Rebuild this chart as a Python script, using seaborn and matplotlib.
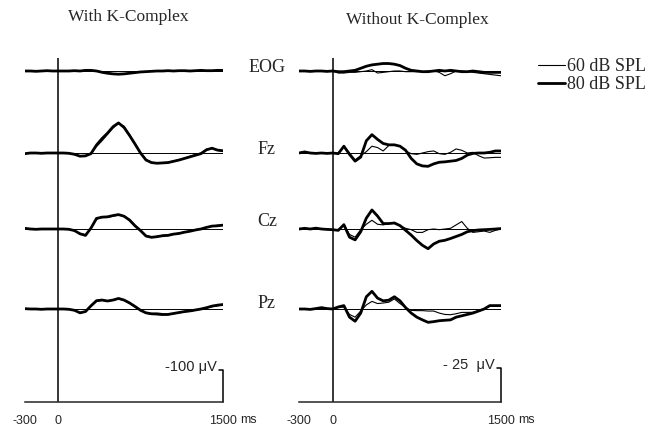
import matplotlib
matplotlib.use("Agg")
import matplotlib.pyplot as plt
from matplotlib.lines import Line2D
import seaborn as sns
import pandas as pd

# time axis (ms), sampled every 50 ms
times = list(range(-300, 1501, 50))
channels = ["EOG", "Fz", "Cz", "Pz"]
levels = ["60 dB SPL", "80 dB SPL"]
panel_titles = ["With K-Complex", "Without K-Complex"]
scale_uv = [100, 25]
xtick_ms = [-300, 0, 300, 600, 900, 1200, 1500]

# With K-Complex (uV, negative = up)
with_kc = {
    ("EOG", "80 dB SPL"): [0, 0, 1, 0, -1, 0, 0, 0, 0, -1, 0, -2, -2, 0, 4, 7, 9, 10, 9, 7, 5, 3, 2, 1,
                           0, 0, -1, 0, -1, -1, 0, -1, -2, -1, -1, -2, -2],
    ("EOG", "60 dB SPL"): [0, 0, 0, 0, -1, 0, 0, 0, 0, 0, 0, -1, -2, 0, 3, 6, 8, 9, 9, 7, 5, 3, 2, 1,
                           0, 0, 0, 0, -1, -1, 0, -1, -1, -1, -1, -2, -2],
    ("Fz", "80 dB SPL"): [2, 0, 0, 1, 0, 0, 0, 0, 1, 4, 10, 9, 2, -25, -45, -62, -82, -94, -80, -55, -28,
                          0, 22, 30, 32, 31, 30, 26, 22, 17, 12, 7, 2, -10, -15, -9, -7],
    ("Fz", "60 dB SPL"): [2, 0, 0, 1, 0, 0, 0, 0, 1, 5, 9, 8, 0, -20, -38, -58, -78, -92, -84, -58, -30,
                          -2, 20, 29, 32, 30, 29, 25, 21, 16, 10, 5, 0, -12, -14, -8, -6],
    ("Cz", "80 dB SPL"): [-2, 0, 1, 0, 0, 0, 0, 0, 1, 5, 15, 20, -3, -33, -37, -38, -42, -45, -40, -28, -10,
                          5, 22, 26, 24, 21, 20, 16, 14, 10, 7, 3, 0, -5, -9, -10, -12],
    ("Cz", "60 dB SPL"): [-2, 0, 0, 0, 0, 0, 0, 0, 1, 6, 14, 18, -2, -30, -39, -36, -40, -44, -41, -30, -12,
                          3, 20, 25, 23, 20, 18, 15, 13, 9, 6, 2, -1, -6, -8, -12, -13],
    ("Pz", "80 dB SPL"): [-1, 0, 0, 1, 0, 0, 0, 0, 1, 4, 12, 8, -10, -26, -28, -25, -28, -33, -28, -19, -8,
                          4, 12, 15, 15, 17, 17, 14, 11, 8, 6, 3, 0, -4, -9, -12, -14],
    ("Pz", "60 dB SPL"): [-1, 0, 0, 0, 0, 0, 0, 0, 1, 5, 11, 7, -8, -24, -27, -24, -27, -31, -27, -18, -6,
                          5, 13, 17, 18, 19, 18, 15, 12, 9, 7, 4, 1, -3, -7, -10, -12],
}

# Without K-Complex (uV, negative = up)
without_kc = {
    ("EOG", "80 dB SPL"): [0, 0, 0.3, 0, 0, 0.3, 0, 0.5, 0.5, 0, -0.5, -2, -3.5, -4.5, -5, -5.5, -5.5, -5, -4,
                           -2, -0.5, 0, 0.5, 0.5, 0, -0.5, 0, -0.5, 0, 0.5, 0.5, 0, 0.5, 1, 1, 1, 1],
    ("EOG", "60 dB SPL"): [0, 0, 0, 0.3, 0, 0, 0, 1.5, 1.5, 1, 1, 0.5, 0, -1, 1.5, 1, 0.5, 0, 0,
                           0.5, 0.5, 0.5, 0.5, 0, 0, 1, 3.5, 2, 0, 0, 0.5, 1, 1.5, 2, 2.5, 3, 3.5],
    ("Fz", "80 dB SPL"): [0, -0.8, 0, 0.3, 0, 0.3, 0, 0.5, -5, 1, 6, 3, -9, -13.5, -10, -7, -6, -6, -5,
                          -2, 4, 8, 9.5, 9.8, 8, 6.8, 6.5, 6, 5.5, 4, 1.5, 0.3, 0, 0, -0.5, -1.5, -1.5],
    ("Fz", "60 dB SPL"): [0, -0.5, 0, 0, 0.3, 0, 0, 0, -5, 0, 5, 2, -1, -5, -4, -1.5, -5.5, -6, -5,
                          -1.5, 0.5, 1, 0, -1, -1.5, 0.5, 1, -0.5, -3, -2, 0, -0.5, 2, 3.7, 3.5, 3.2, 3.2],
    ("Cz", "80 dB SPL"): [0, -0.5, 0, -0.6, 0, 0.3, 0.5, 1, -3.2, 6, 8, 2, -8, -14, -9.5, -4, -4, -4.4, -2.5,
                          1, 4.5, 8.5, 12, 14.5, 11, 9, 8.3, 7, 5.5, 4, 2, 1.2, 0.7, 0.5, 0.3, 0, -0.3],
    ("Cz", "60 dB SPL"): [0, -0.3, 0, -0.3, 0, 0, 0.5, 0.5, -3, 4, 6, 0.5, -3.5, -6.4, -3.5, -3, -4, -4.9, -2.5,
                          -0.5, 0.5, 2.5, 2.5, 0.5, 0, 0.5, 0, -0.5, -3, -5.5, -0.5, 2.5, 2, 1.5, 2.5, 1, 0],
    ("Pz", "80 dB SPL"): [0, 0, 0.3, -0.3, -1, -0.3, 0, -1.5, -2.5, 6, 9, 3, -9, -13, -8, -6, -6.5, -9, -6,
                          -1, 3, 6, 8, 9.8, 9.3, 8.6, 8.3, 8, 6, 5, 4, 3, 1.5, 0, -2.5, -2.5, -2.5],
    ("Pz", "60 dB SPL"): [0, 0, 0, 0, -0.5, 0, 0, -1, -1.5, 4, 6, 1.5, -3, -5.6, -4, -4.4, -5, -7.4, -4,
                          -1, 1, 1.2, 1.2, 1.5, 1.5, 3, 4, 4.2, 3.5, 2.5, 2.5, 2.4, 1.2, 0, -2, -2.5, -2.5],
}
panels = [with_kc, without_kc]

# layout (figure pixels)
W, H = 665, 428
axes_px = [(25, 223), (299, 501)]
ax_top, ax_bot = 58, 402
baseline_px = [71, 153, 229, 309]
label_y_px = [68, 149, 221, 304]

sns.set_style("white")
plt.rcParams["font.family"] = ["Liberation Serif", "DejaVu Sans"]

fig = plt.figure(figsize=(W / 100, H / 100), dpi=100)

for p, data in enumerate(panels):
    x0, x1 = axes_px[p]
    ax = fig.add_axes([x0 / W, 1 - ax_bot / H, (x1 - x0) / W, (ax_bot - ax_top) / H])
    span = scale_uv[p] * (ax_bot - ax_top) / (32 if p == 0 else 34)

    rows = []
    for ci, ch in enumerate(channels):
        offset = span * (ax_bot - baseline_px[ci]) / (ax_bot - ax_top)
        ax.axhline(-offset, color="black", lw=0.7)
        for lev in levels:
            for t, v in zip(times, data[(ch, lev)]):
                rows.append({"ms": t, "y": v - offset, "channel": ch, "level": lev})
    df = pd.DataFrame(rows)
    sns.lineplot(data=df, x="ms", y="y", hue="level", size="level", units="channel",
                 estimator=None, palette={levels[0]: "black", levels[1]: "black"},
                 sizes={levels[0]: 0.8, levels[1]: 2.0}, legend=False, ax=ax)

    ax.set_xlim(-300, 1500)
    ax.set_ylim(0, -span)
    ax.axvline(0, color="black", lw=1.1)
    sns.despine(ax=ax, left=True)
    ax.spines["bottom"].set_linewidth(1.1)
    ax.set_xticks(xtick_ms)
    ax.set_xticklabels(["-300", "0", "", "", "", "", "1500"], fontfamily="Liberation Sans", fontsize=9)
    ax.tick_params(axis="x", direction="in", length=4, width=1.1, pad=9)
    ax.set_yticks([])
    ax.set_xlabel("")
    ax.set_ylabel("")
    ax.annotate("ms", xy=(1500, 0), xycoords=("data", "axes fraction"), xytext=(12, -13),
                textcoords="offset points", ha="left", va="center",
                fontfamily="Liberation Sans", fontsize=9)

    # scale bar at the right end of the time axis
    ax.plot([1460, 1500, 1500], [-scale_uv[p], -scale_uv[p], 0], color="black", lw=1.1, clip_on=False)
    bar_lab = "-100 μV" if p == 0 else "- 25  μV"
    ax.annotate(bar_lab, xy=(1460, -scale_uv[p]), xytext=(-1, 2), textcoords="offset points",
                ha="right", va="center", fontfamily="Liberation Sans", fontsize=10.5)

# titles
fig.text(128 / W, 1 - 17 / H, panel_titles[0], ha="center", va="center", fontsize=12.5)
fig.text(417 / W, 1 - 20 / H, panel_titles[1], ha="center", va="center", fontsize=12.5)

# channel labels
for ch, yp in zip(channels, label_y_px):
    fig.text(267 / W, 1 - yp / H, ch, ha="center", va="center", fontsize=13)

handles = [Line2D([], [], color="black", lw=0.8), Line2D([], [], color="black", lw=2.0)]
fig.legend(handles, levels, loc="upper left", bbox_to_anchor=(538 / W, 1 - 58 / H),
           frameon=False, prop={"family": "Liberation Serif", "size": 13}, handlelength=1.5,
           handletextpad=0.1, labelspacing=0.05, borderaxespad=0, borderpad=0)

fig.savefig("out.png", dpi=100)
